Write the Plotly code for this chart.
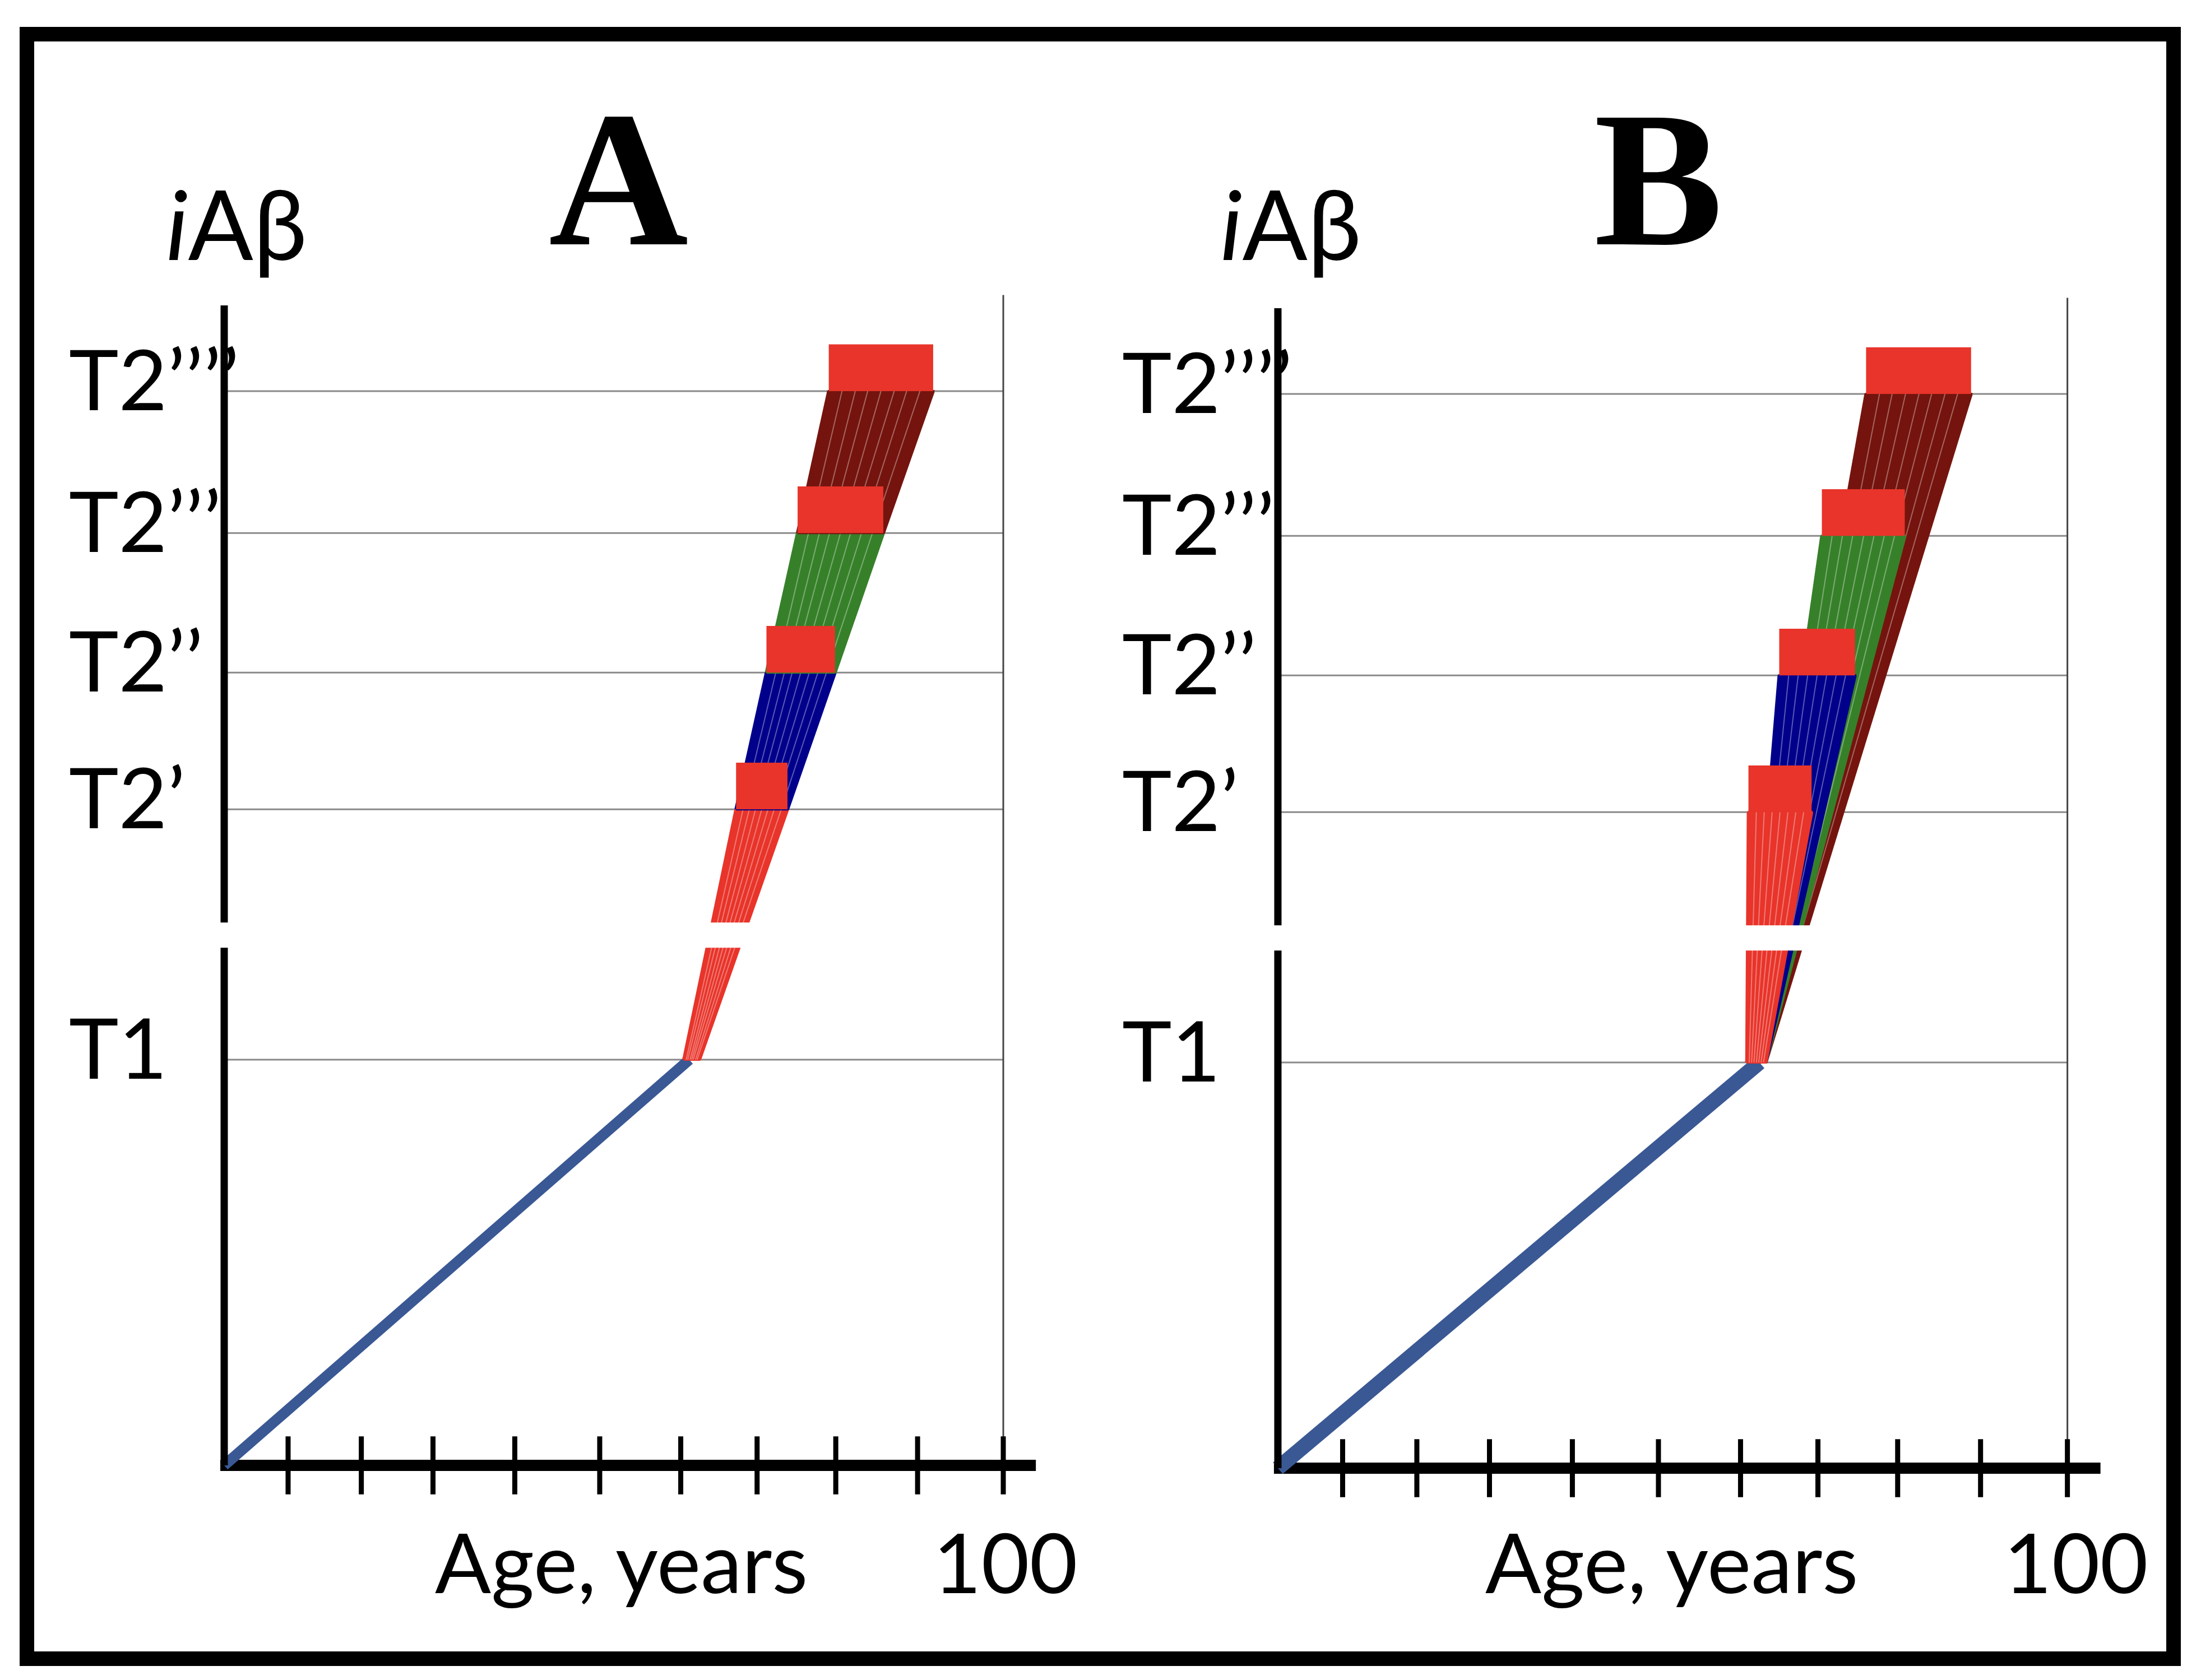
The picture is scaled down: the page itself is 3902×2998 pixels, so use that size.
"""Two-panel schematic of iAβ accumulation vs age with thresholds T1..T2''''."""

import plotly.graph_objects as go

# threshold levels (arbitrary iAβ units) and their labels
LEVEL_NAMES = ["T1", "T2’", "T2’’", "T2’’’", "T2’’’’"]
LEVELS = [1.0, 1.617, 1.954, 2.298, 2.648]

# age ticks on the x axis (hand placed in the original)
X_TICKS = [8.2, 17.6, 26.8, 37.3, 48.2, 58.6, 68.4, 78.5, 89.0, 100]

# panel A: each trajectory crosses T1, T2', T2'', T2''', T2'''' in turn
A_ONSET = 59.7
A_T1 = [59.0, 59.3, 59.5, 59.8, 60.0, 60.2, 60.5, 60.7, 61.0]
A_T2_1 = [65.7, 66.6, 67.4, 68.2, 69.0, 69.8, 70.6, 71.5, 72.3]
A_T2_2 = [69.6, 70.8, 71.9, 72.9, 74.0, 75.1, 76.2, 77.3, 78.4]
A_T2_3 = [73.6, 75.0, 76.4, 77.7, 79.1, 80.4, 81.8, 83.2, 84.6]
A_T2_4 = [77.6, 79.3, 81.0, 82.6, 84.3, 86.0, 87.6, 89.3, 91.0]

# panel B: every fan starts at T1 and goes straight to its own threshold
B_ONSET = 61.0
B_START = [59.4, 59.7, 60.0, 60.3, 60.6, 60.9, 61.2, 61.5, 61.8]
B_T2_1 = [59.6, 60.6, 61.6, 62.6, 63.6, 64.6, 65.6, 66.6, 67.6]
B_T2_2 = [63.5, 64.7, 65.9, 67.1, 68.3, 69.5, 70.7, 71.9, 73.1]
B_T2_3 = [68.9, 70.2, 71.5, 72.8, 74.2, 75.5, 76.8, 78.1, 79.4]
B_T2_4 = [74.5, 76.2, 77.8, 79.5, 81.2, 82.8, 84.5, 86.1, 87.8]

W, H = 3902, 2998
RED = "#E8342A"
BAND_COLORS = ["#E8342A", "#00008B", "#37802A", "#75140E"]
ONSET_COLOR = "#3A5894"
RECT_H = 0.115
BREAK_LO, BREAK_HI, AXIS_TOP = 1.276, 1.338, 2.859
X_END, Y_TOP = 104.2, 2.885
SANS = "Lato, Carlito, Liberation Sans, sans-serif"
SERIF = "Liberation Serif, Times New Roman, serif"


def px(x):
    return x / W


def py(y):
    return 1 - y / H


def add_band(fig, lo_ages, lo_level, hi_ages, hi_level, color, xa, ya):
    """Fan of trajectories between two levels, filled between the outer ones."""
    fig.add_trace(
        go.Scatter(
            x=[lo_ages[0], hi_ages[0], hi_ages[-1], lo_ages[-1], lo_ages[0]],
            y=[lo_level, hi_level, hi_level, lo_level, lo_level],
            mode="lines",
            fill="toself",
            fillcolor=color,
            line=dict(color=color, width=4),
            xaxis=xa,
            yaxis=ya,
            hoverinfo="skip",
        )
    )
    xs, ys = [], []
    for a, b in zip(lo_ages, hi_ages):
        xs += [a, b, None]
        ys += [lo_level, hi_level, None]
    fig.add_trace(
        go.Scatter(x=xs, y=ys, mode="lines", line=dict(color=color, width=6),
                   xaxis=xa, yaxis=ya, hoverinfo="skip")
    )
    # thin light streaks between individual trajectories
    fig.add_trace(
        go.Scatter(x=xs[3:-3], y=ys[3:-3], mode="lines",
                   line=dict(color="rgba(255,255,255,0.35)", width=2),
                   xaxis=xa, yaxis=ya, hoverinfo="skip")
    )


def add_marker_block(fig, ages, level, xa, ya):
    """Red block sitting on a threshold line, spanning the crossing ages."""
    lo, hi = min(ages), max(ages)
    fig.add_trace(
        go.Scatter(
            x=[lo, hi, hi, lo, lo],
            y=[level, level, level + RECT_H, level + RECT_H, level],
            mode="lines",
            fill="toself",
            fillcolor=RED,
            line=dict(color=RED, width=0),
            xaxis=xa,
            yaxis=ya,
            hoverinfo="skip",
        )
    )


fig = go.Figure()

# ---- panel A
fig.add_trace(go.Scatter(x=[0, A_ONSET], y=[0, LEVELS[0]], mode="lines",
                         line=dict(color=ONSET_COLOR, width=19), xaxis="x", yaxis="y"))
a_ages = [A_T1, A_T2_1, A_T2_2, A_T2_3, A_T2_4]
for k in range(4):
    add_band(fig, a_ages[k], LEVELS[k], a_ages[k + 1], LEVELS[k + 1],
             BAND_COLORS[k], "x", "y")
for k in range(1, 5):
    add_marker_block(fig, a_ages[k], LEVELS[k], "x", "y")

# ---- panel B
fig.add_trace(go.Scatter(x=[0, B_ONSET], y=[0, LEVELS[0]], mode="lines",
                         line=dict(color=ONSET_COLOR, width=27), xaxis="x2", yaxis="y2"))
b_ends = [B_T2_1, B_T2_2, B_T2_3, B_T2_4]
for k in reversed(range(4)):
    add_band(fig, B_START, LEVELS[0], b_ends[k], LEVELS[k + 1],
             BAND_COLORS[k], "x2", "y2")
for k in range(4):
    add_marker_block(fig, b_ends[k], LEVELS[k + 1], "x2", "y2")

# x-axis ticks crossing the axis line
for xa, ya in (("x", "y"), ("x2", "y2")):
    fig.add_trace(
        go.Scatter(
            x=X_TICKS,
            y=[0] * len(X_TICKS),
            mode="markers",
            marker=dict(symbol="line-ns", size=74, line=dict(width=9, color="black")),
            cliponaxis=False,
            xaxis=xa,
            yaxis=ya,
            hoverinfo="skip",
        )
    )

shapes = []
annotations = []
panels = [
    # xref, yref, label left px, iAβ centre px, letter, letter centre px, age label px, 100 px
    ("x", "y", 113, 414, "A", 1095, 1100, 1786),
    ("x2", "y2", 1992, 2295, "B", 2951, 2974, 3696),
]
for xr, yr, lab_x, iab_x, letter, let_x, age_x, hund_x in panels:
    for lv in LEVELS:
        shapes.append(dict(type="line", xref=xr, yref=yr, x0=0, x1=100, y0=lv, y1=lv,
                           line=dict(color="#8a8a8a", width=3), layer="below"))
    shapes.append(dict(type="line", xref=xr, yref=yr, x0=100, x1=100, y0=0, y1=Y_TOP,
                       line=dict(color="#444444", width=3), layer="below"))
    # white break across the fans
    shapes.append(dict(type="rect", xref=xr, yref=yr, x0=1, x1=99, y0=BREAK_LO, y1=BREAK_HI,
                       fillcolor="white", line=dict(width=0), layer="above"))
    # broken y axis
    shapes.append(dict(type="line", xref=xr, yref=yr, x0=0, x1=0, y0=0, y1=BREAK_LO,
                       line=dict(color="black", width=13), layer="above"))
    shapes.append(dict(type="line", xref=xr, yref=yr, x0=0, x1=0, y0=BREAK_HI, y1=AXIS_TOP,
                       line=dict(color="black", width=13), layer="above"))
    # thick x axis
    shapes.append(dict(type="line", xref=xr, yref=yr, x0=-0.5, x1=X_END, y0=0, y1=0,
                       line=dict(color="black", width=20), layer="below"))

    for name, lv in zip(LEVEL_NAMES, LEVELS):
        annotations.append(dict(text=name, xref="paper", yref=yr, x=px(lab_x), y=lv,
                                xanchor="left", yanchor="middle", yshift=24, showarrow=False,
                                font=dict(family=SANS, size=150, color="black")))
    annotations.append(dict(text="<i>i</i>Aβ", xref="paper", yref="paper", x=px(iab_x),
                            y=py(390), xanchor="center", yanchor="middle", showarrow=False,
                            font=dict(family=SANS, size=172, color="black")))
    annotations.append(dict(text="<b>%s</b>" % letter, xref="paper", yref="paper", x=px(let_x),
                            y=py(312), xanchor="center", yanchor="middle", showarrow=False,
                            font=dict(family=SERIF, size=345, color="black")))
    annotations.append(dict(text="Age, years", xref="paper", yref="paper", x=px(age_x),
                            y=py(2778), xanchor="center", yanchor="middle", showarrow=False,
                            font=dict(family=SANS, size=148, color="black")))
    annotations.append(dict(text="100", xref="paper", yref="paper", x=px(hund_x),
                            y=py(2778), xanchor="center", yanchor="middle", showarrow=False,
                            font=dict(family=SANS, size=148, color="black")))

# outer frame
shapes.append(dict(type="rect", xref="paper", yref="paper", x0=px(40), x1=px(3870),
                   y0=py(2952), y1=py(53), line=dict(color="black", width=26)))

axis_common = dict(visible=False, showgrid=False, zeroline=False, fixedrange=True)
fig.update_layout(
    width=W,
    height=H,
    margin=dict(l=0, r=0, t=0, b=0),
    paper_bgcolor="white",
    plot_bgcolor="white",
    showlegend=False,
    xaxis=dict(domain=[0.09334, 0.47166], range=[-2, X_END], anchor="y", **axis_common),
    yaxis=dict(domain=[0.11834, 0.82712], range=[-0.05, Y_TOP], anchor="x", **axis_common),
    xaxis2=dict(domain=[0.57504, 0.95843], range=[-2, X_END], anchor="y2", **axis_common),
    yaxis2=dict(domain=[0.11668, 0.82545], range=[-0.05, Y_TOP], anchor="x2", **axis_common),
    shapes=shapes,
    annotations=annotations,
)

fig.write_html("out.html")
